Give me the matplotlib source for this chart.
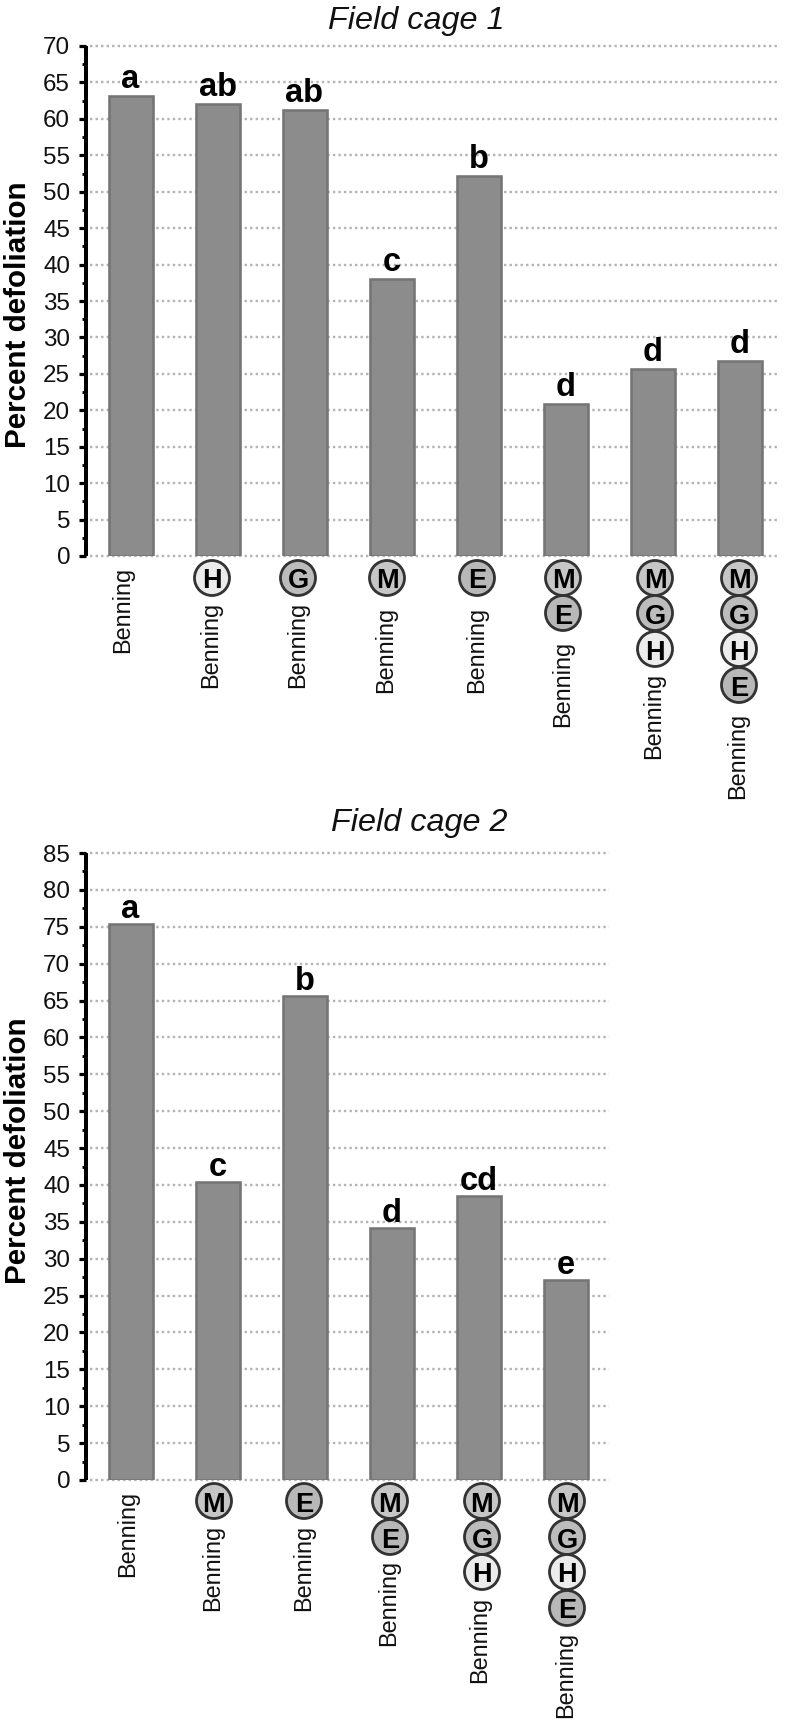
import matplotlib
matplotlib.use("Agg")
import matplotlib.pyplot as plt
from matplotlib.patches import Circle
from matplotlib.transforms import Affine2D
from matplotlib.ticker import MultipleLocator

W, H, DPI = 786, 1720, 100
plt.rcParams['font.family'] = ['Liberation Sans', 'DejaVu Sans']

# ---- data ----
cage1_values = [63.2, 62.1, 61.2, 38.0, 52.2, 20.9, 25.6, 26.8]
cage1_letters = ['a', 'ab', 'ab', 'c', 'b', 'd', 'd', 'd']
cage1_stacks = [[], ['H'], ['G'], ['M'], ['E'], ['M', 'E'], ['M', 'G', 'H'], ['M', 'G', 'H', 'E']]
cage2_values = [75.4, 40.4, 65.6, 34.2, 38.55, 27.1]
cage2_letters = ['a', 'c', 'b', 'd', 'cd', 'e']
cage2_stacks = [[], ['M'], ['E'], ['M', 'E'], ['M', 'G', 'H'], ['M', 'G', 'H', 'E']]
cultivar = 'Benning'

# ---- layout (pixels) and style ----
cage1_circle_x = [0, 212, 298, 387, 477, 563, 655, 739]
cage1_circle_y = [578, 613, 649, 685]
cage1_text_x = [123, 211, 298, 386, 477, 563, 654, 738]
cage1_text_bottom = [653, 688, 688, 693, 693, 727, 759, 799]
cage2_circle_x = [0, 214, 304, 390, 482, 567]
cage2_circle_y = [1501, 1537, 1572, 1608]
cage2_text_x = [128, 213, 304, 389, 480, 566]
cage2_text_bottom = [1577, 1611, 1611, 1646, 1683, 1718]
fills = {'E': '#b8b8b8', 'M': '#c6c6c6', 'G': '#bcbcbc', 'H': '#ececec'}
px = 72 / DPI

fig = plt.figure(figsize=(W / DPI, H / DPI), dpi=DPI, facecolor='white')
to_px = Affine2D().scale(1, -1).translate(0, H)


def panel(top, bottom, right, ymax, values, letters, stacks, title, title_x, title_y,
          ylabel_y, circle_x, circle_y, text_x, text_bottom, letter_gap):
    left = 86
    ax = fig.add_axes([left / W, 1 - bottom / H, (right - left) / W, (bottom - top) / H])
    step = 87
    ax.set_xlim((left - 130.5) / step, (right - 130.5) / step)
    ax.set_ylim(0, ymax)
    ax.patch.set_visible(False)
    for s in ('top', 'right', 'bottom'):
        ax.spines[s].set_visible(False)
    ax.spines['left'].set_linewidth(4 * px)
    ax.spines['left'].set_capstyle('butt')
    ax.yaxis.set_major_locator(MultipleLocator(5))
    ax.yaxis.set_minor_locator(MultipleLocator(2.5))
    ax.tick_params(axis='y', which='major', length=7 * px, width=3.2 * px, pad=9 * px,
                   labelsize=17.4, labelcolor='#111111')
    ax.tick_params(axis='y', which='minor', length=4 * px, width=2.8 * px)
    ax.set_xticks([])
    x0 = (90 - 130.5) / step
    x1 = ax.get_xlim()[1]
    for t in range(0, ymax + 1, 5):
        ax.plot([x0, x1], [t, t], color='#b4b4b4', lw=2.4 * px, zorder=1, clip_on=False,
                linestyle=(0, (1.0, 1.3)), dash_capstyle='butt')
    xs = list(range(len(values)))
    ax.bar(xs, values, width=44 / step, color='#8c8c8c', edgecolor='#757575',
           linewidth=2.6 * px, zorder=2)
    for x, v, lab in zip(xs, values, letters):
        ax.annotate(lab, (x, v), xytext=(0, letter_gap * px), textcoords='offset points',
                    ha='center', va='baseline', fontsize=23.5, fontweight='bold', color='black',
                    zorder=4)
    fig.text(title_x, title_y, title, transform=to_px, ha='center', va='center',
             fontsize=23.3, style='italic', color='#111111')
    fig.text(18, ylabel_y, 'Percent defoliation', transform=to_px, ha='center', va='center',
             rotation=90, fontsize=21.3, fontweight='bold', color='black')
    for i, stack in enumerate(stacks):
        fig.text(text_x[i], text_bottom[i], cultivar, transform=to_px, rotation=90,
                 ha='center', va='bottom', fontsize=16.9, color='#111111')
        for j, code in enumerate(stack):
            cx, cy = circle_x[i], circle_y[j]
            fig.add_artist(Circle((cx, cy), 17.5, transform=to_px, facecolor=fills[code],
                                  edgecolor='#333333', linewidth=2.8 * px, zorder=5))
            fig.text(cx, cy + 0.5, code, transform=to_px, ha='center', va='center_baseline',
                     fontsize=19.5, fontweight='bold', color='black', zorder=6)


panel(46, 556, 780, 70, cage1_values, cage1_letters, cage1_stacks, 'Field cage 1', 416, 21,
      315, cage1_circle_x, cage1_circle_y, cage1_text_x, cage1_text_bottom, 8)
panel(853, 1480, 609, 85, cage2_values, cage2_letters, cage2_stacks, 'Field cage 2', 419, 823,
      1151, cage2_circle_x, cage2_circle_y, cage2_text_x, cage2_text_bottom, 6)

fig.savefig('out.png', dpi=DPI, facecolor='white')
